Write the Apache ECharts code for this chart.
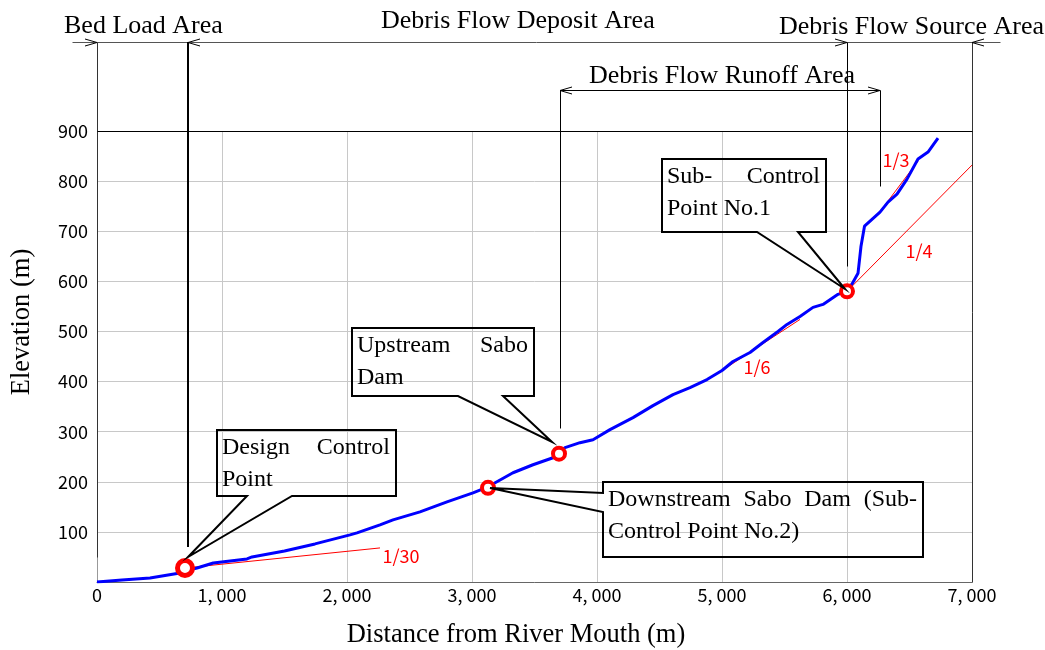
<!DOCTYPE html>
<html>
<head>
<meta charset="utf-8" />
<title>Longitudinal Profile</title>
<script src="https://cdn.jsdelivr.net/npm/echarts@6/dist/echarts.min.js"></script>
<style>body{margin:0;background:#fff}</style>
</head>
<body>
<div id="main" style="width:1045px;height:650px"></div>
<script>
// river bed profile: distance from river mouth (m) / elevation (m)
var profileX = [0, 200, 424, 664, 704, 800, 930, 1200, 1240, 1500, 1744, 2024, 2080, 2264, 2368, 2584, 2800, 3008, 3128, 3328, 3488, 3648, 3744, 3864, 3968, 4104, 4288, 4448, 4608, 4744, 4880, 5000, 5088, 5224, 5328, 5448, 5520, 5624, 5728, 5808, 5928, 6000, 6048, 6088, 6112, 6140, 6264, 6328, 6400, 6480, 6568, 6648, 6728];
var profileY = [0, 4, 8, 18, 22, 28, 38, 46, 50, 62, 76, 94, 98, 114, 124, 140, 160, 178, 190, 218, 234, 248, 268, 278, 284, 304, 328, 352, 374, 388, 404, 422, 440, 458, 478, 500, 514, 530, 548, 554, 574, 580, 598, 616, 670, 710, 738, 758, 774, 804, 844, 858, 886];

// control points / sabo dams
var pointNames = ['Design Control Point', 'Downstream Sabo Dam', 'Upstream Sabo Dam', 'Sub-Control Point No.1'];
var pointX = [704, 3128, 3696, 6000];
var pointY = [28, 188, 256, 580];

// gradient guide lines
var slopeNames = ['1/30', '1/6', '1/4', '1/3'];
var slopeX = [[704, 2264], [5000, 5624], [6000, 7000], [6264, 6568]];
var slopeY = [[28, 68], [422, 524], [580, 832], [739, 840]];

// area boundaries (distance, m)
var areaX = [0, 728, 6000, 7000];
var runoffX = [3700, 6264];

var xTicks = [0, 1000, 2000, 3000, 4000, 5000, 6000, 7000];
var yTicks = [100, 200, 300, 400, 500, 600, 700, 800, 900];

var SERIF = '"Liberation Serif", "Times New Roman", serif';
var SANS = '"Noto Sans CJK JP", "Noto Sans", sans-serif';

var measure = document.createElement('canvas').getContext('2d');
function textWidth(s, font) {
    measure.font = font;
    return measure.measureText(s).width;
}

var callouts = [
    {text: [['Design', 'Control'], ['Point']], box: [960, 2392, 304, 172], side: 'bottom', base: [1200, 1560], tip: [728, 50]},
    {text: [['Upstream', 'Sabo'], ['Dam']], box: [2040, 3496, 506, 372], side: 'bottom', base: [2888, 3248], tip: [3640, 280]},
    {text: [['Downstream', 'Sabo', 'Dam', '(Sub-'], ['Control Point No.2)']], box: [4048, 6608, 200, 50], side: 'left', base: [178, 140], tip: [3144, 188]},
    {text: [['Sub-', 'Control'], ['Point No.1']], box: [4520, 5832, 844, 698], side: 'bottom', base: [5280, 5608], tip: [5984, 584]}
];
var slopeLabelPos = [[2432, 52], [5280, 428], [6576, 660], [6392, 842]];

var myChart = echarts.init(document.getElementById('main'));

function fmtX(v) {
    return String(v).replace(/\B(?=(\d{3})+(?!\d))/g, ', ');
}

function renderNotes(params, api) {
    var kids = [];
    function pt(x, y) {
        var c = api.coord([x, y]);
        return [Math.round(c[0]), Math.round(c[1])];
    }
    function seg(x1, y1, x2, y2, color, w) {
        var a = pt(x1, y1), b = pt(x2, y2);
        var off = (w % 2 === 1) ? 0.5 : 0;
        kids.push({type: 'line', shape: {x1: a[0] + off, y1: a[1] + off, x2: b[0] + off, y2: b[1] + off},
            style: {stroke: color, lineWidth: w}});
    }
    function chevron(x, y, dir) {
        var p = pt(x, y);
        kids.push({type: 'polyline', shape: {points: [[p[0] - 12 * dir, p[1] - 3.5 + 0.5], [p[0], p[1] + 0.5], [p[0] - 12 * dir, p[1] + 3.5 + 0.5]]},
            style: {stroke: '#000', lineWidth: 1, fill: null}});
    }
    var topY = 1078, runY = 982;

    // area arrows
    seg(-200, topY, 7224, topY, '#555', 1);
    seg(0, topY, 0, 50, '#333', 1);
    seg(areaX[1], topY, areaX[1], 70, '#000', 2);
    seg(areaX[2], topY, areaX[2], 630, '#000', 1);
    seg(areaX[3], topY, areaX[3], 0, '#333', 1);
    chevron(areaX[0], topY, 1);
    chevron(areaX[1], topY, -1);
    chevron(areaX[2], topY, 1);
    chevron(areaX[3], topY, -1);

    seg(runoffX[0], runY, runoffX[1], runY, '#000', 1);
    seg(runoffX[0], runY, runoffX[0], 308, '#000', 1);
    seg(runoffX[1], runY, runoffX[1], 790, '#000', 1);
    chevron(runoffX[0], runY, -1);
    chevron(runoffX[1], runY, 1);

    seg(0, 900, 7000, 900, '#000', 1);

    // slope labels
    slopeNames.forEach(function (s, i) {
        var p = api.coord(slopeLabelPos[i]);
        kids.push({type: 'text', x: p[0], y: p[1], style: {text: s, font: '18px ' + SANS, fill: '#ff0000', align: 'center', verticalAlign: 'middle'}});
    });

    // callout boxes
    var font = '24px ' + SERIF;
    callouts.forEach(function (c) {
        var tl = pt(c.box[0], c.box[2]), br = pt(c.box[1], c.box[3]);
        var L = tl[0], T = tl[1], R = br[0], B = br[1];
        var tip = pt(c.tip[0], c.tip[1]);
        var pts;
        if (c.side === 'bottom') {
            var b1 = pt(c.base[0], 0)[0], b2 = pt(c.base[1], 0)[0];
            pts = [[L, T], [R, T], [R, B], [b2, B], tip, [b1, B], [L, B]];
        } else {
            var y1 = pt(0, c.base[0])[1], y2 = pt(0, c.base[1])[1];
            pts = [[L, T], [R, T], [R, B], [L, B], [L, y2], tip, [L, y1]];
        }
        kids.push({type: 'polygon', shape: {points: pts}, style: {stroke: '#000', lineWidth: 2, fill: null}});
        var xl = L + 5, xr = R - 6;
        c.text.forEach(function (words, li) {
            var cy = T + 18 + li * 32;
            if (words.length > 1 && li < c.text.length - 1) {
                var total = 0;
                words.forEach(function (w) { total += textWidth(w, font); });
                var gap = (xr - xl - total) / (words.length - 1);
                var x = xl;
                words.forEach(function (w) {
                    kids.push({type: 'text', x: x, y: cy, style: {text: w, font: font, fill: '#000', align: 'left', verticalAlign: 'middle'}});
                    x += textWidth(w, font) + gap;
                });
            } else {
                kids.push({type: 'text', x: xl, y: cy, style: {text: words.join(' '), font: font, fill: '#000', align: 'left', verticalAlign: 'middle'}});
            }
        });
    });

    return {type: 'group', children: kids};
}

var profile = profileX.map(function (x, i) { return [x, profileY[i]]; });
var points = pointX.map(function (x, i) {
    return {name: pointNames[i], value: [x, pointY[i]], symbolSize: i === 0 ? 15 : 12, itemStyle: {borderWidth: i === 0 ? 5 : 4}};
});

var series = [];
slopeNames.forEach(function (s, i) {
    series.push({
        name: s, type: 'line', z: 2, silent: true, symbol: 'none',
        lineStyle: {color: '#ff0000', width: 1},
        data: slopeX[i].map(function (x, j) { return [x, slopeY[i][j]]; })
    });
});
series.push({
    name: 'Riverbed', type: 'line', z: 3, symbol: 'none',
    lineStyle: {color: '#0000ff', width: 3},
    data: profile
});
series.push({
    name: 'Points', type: 'scatter', z: 4, symbol: 'circle',
    itemStyle: {color: '#ffffff', borderColor: '#ff0000', opacity: 1},
    data: points
});
series.push({
    name: 'Notes', type: 'custom', z: 5, silent: true, clip: false,
    coordinateSystem: 'cartesian2d',
    renderItem: renderNotes,
    data: [[0, 0]]
});

var option = {
    animation: false,
    backgroundColor: '#ffffff',
    grid: {left: 97, right: 73, top: 131, bottom: 68, containLabel: false, outerBoundsMode: 'none'},
    xAxis: {
        type: 'value', min: 0, max: 7000, interval: 1000,
        axisLine: {show: true, lineStyle: {color: '#666', width: 1}},
        axisTick: {show: false},
        splitLine: {show: true, lineStyle: {color: '#c8c8c8', width: 1}},
        axisLabel: {
            margin: 4, color: '#000', fontSize: 18, fontFamily: SANS,
            showMinLabel: true, showMaxLabel: true,
            formatter: function (v) { return xTicks.indexOf(v) >= 0 ? fmtX(v) : ''; }
        }
    },
    yAxis: {
        type: 'value', min: 0, max: 900, interval: 100,
        axisLine: {show: true, lineStyle: {color: '#999', width: 1}},
        axisTick: {show: false},
        splitLine: {show: true, lineStyle: {color: '#c8c8c8', width: 1}},
        axisLabel: {
            margin: 9, color: '#000', fontSize: 18, fontFamily: SANS,
            formatter: function (v) { return yTicks.indexOf(v) >= 0 ? String(v) : ''; }
        }
    },
    graphic: [
        {type: 'text', left: 64, top: 13, style: {text: 'Bed Load Area', font: '26px ' + SERIF, fill: '#000'}},
        {type: 'text', left: 381, top: 8, style: {text: 'Debris Flow Deposit Area', font: '26px ' + SERIF, fill: '#000'}},
        {type: 'text', left: 779, top: 14, style: {text: 'Debris Flow Source Area', font: '26px ' + SERIF, fill: '#000'}},
        {type: 'text', left: 589, top: 63, style: {text: 'Debris Flow Runoff Area', font: '26px ' + SERIF, fill: '#000'}},
        {type: 'text', x: 516, y: 635, style: {text: 'Distance from River Mouth (m)', font: '26.5px ' + SERIF, fill: '#000', align: 'center', verticalAlign: 'middle'}},
        {type: 'text', x: 22, y: 322, rotation: Math.PI / 2, style: {text: 'Elevation (m)', font: '26.5px ' + SERIF, fill: '#000', align: 'center', verticalAlign: 'middle'}}
    ],
    series: series
};

myChart.setOption(option);
</script>
</body>
</html>
